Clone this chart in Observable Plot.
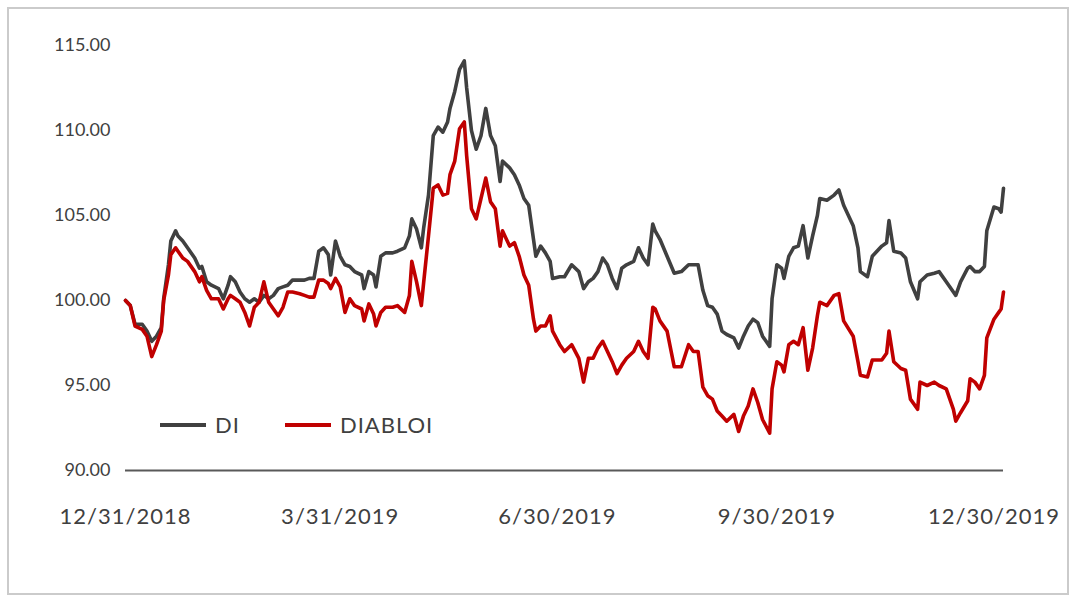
<!DOCTYPE html>
<html>
<head>
<meta charset="utf-8">
<script src="https://cdn.jsdelivr.net/npm/d3@7"></script>
<script src="https://cdn.jsdelivr.net/npm/@observablehq/plot@0.6"></script>
<style>
  html, body { margin: 0; padding: 0; background: #ffffff; }
  #wrap { position: relative; width: 1073px; height: 598px; overflow: hidden; font-family: Lato, "Open Sans", sans-serif; }
  #frame { position: absolute; left: 7px; top: 7px; width: 1062px; height: 588px; border: 2px solid #cbcbcb; box-sizing: border-box; }
  #chart { position: absolute; left: 0; top: 0; }
  #chart g[aria-label="x-axis tick label"] { font-size: 22px; letter-spacing: 1px; }
  #chart g[aria-label="y-axis tick label"] { font-size: 18px; }
  #legend { position: absolute; left: 160px; top: 411px; display: flex; align-items: center; font-size: 22px; letter-spacing: 1px; color: #404040; }
  .key { display: flex; align-items: center; margin-right: 45px; }
  .swatch { width: 46px; height: 4px; margin-right: 9px; }
</style>
</head>
<body>
<div id="wrap">
  <div id="frame"></div>
  <div id="chart"></div>
  <div id="legend"></div>
</div>
<script>
const seriesNames = ["DI", "DIABLOI"];
const seriesColors = ["#404040", "#c00000"];

const dates = [
"2018-12-31","2019-01-02","2019-01-04","2019-01-07","2019-01-09","2019-01-11","2019-01-13","2019-01-15","2019-01-16","2019-01-18",
"2019-01-19","2019-01-21","2019-01-22","2019-01-24","2019-01-26","2019-01-29","2019-01-31","2019-02-01","2019-02-03","2019-02-05",
"2019-02-08","2019-02-10","2019-02-12","2019-02-13","2019-02-15","2019-02-17","2019-02-19","2019-02-21","2019-02-23","2019-02-25",
"2019-02-27","2019-03-01","2019-03-03","2019-03-05","2019-03-07","2019-03-09","2019-03-11","2019-03-14","2019-03-16","2019-03-18",
"2019-03-20","2019-03-22","2019-03-24","2019-03-26","2019-03-27","2019-03-29","2019-03-31","2019-04-02","2019-04-04","2019-04-06",
"2019-04-09","2019-04-10","2019-04-12","2019-04-14","2019-04-15","2019-04-17","2019-04-19","2019-04-22","2019-04-24","2019-04-27",
"2019-04-29","2019-04-30","2019-05-02","2019-05-04","2019-05-05","2019-05-07","2019-05-09","2019-05-11","2019-05-13","2019-05-15",
"2019-05-16","2019-05-18","2019-05-20","2019-05-22","2019-05-23","2019-05-25","2019-05-27","2019-05-29","2019-05-31","2019-06-02",
"2019-06-04","2019-06-06","2019-06-07","2019-06-10","2019-06-12","2019-06-14","2019-06-16","2019-06-18","2019-06-20","2019-06-21",
"2019-06-23","2019-06-25","2019-06-27","2019-06-28","2019-07-01","2019-07-03","2019-07-06","2019-07-09","2019-07-11","2019-07-13",
"2019-07-15","2019-07-17","2019-07-19","2019-07-21","2019-07-23","2019-07-25","2019-07-27","2019-07-29","2019-08-01","2019-08-03",
"2019-08-05","2019-08-07","2019-08-09","2019-08-10","2019-08-12","2019-08-15","2019-08-18","2019-08-21","2019-08-24","2019-08-26",
"2019-08-28","2019-08-30","2019-09-01","2019-09-03","2019-09-05","2019-09-07","2019-09-09","2019-09-12","2019-09-14","2019-09-16",
"2019-09-18","2019-09-20","2019-09-22","2019-09-24","2019-09-27","2019-09-28","2019-09-30","2019-10-02","2019-10-03","2019-10-05",
"2019-10-07","2019-10-09","2019-10-11","2019-10-13","2019-10-15","2019-10-17","2019-10-18","2019-10-21","2019-10-24","2019-10-26",
"2019-10-28","2019-11-01","2019-11-03","2019-11-04","2019-11-07","2019-11-09","2019-11-13","2019-11-15","2019-11-16","2019-11-18",
"2019-11-21","2019-11-23","2019-11-25","2019-11-28","2019-11-29","2019-12-02","2019-12-05","2019-12-07","2019-12-10","2019-12-13",
"2019-12-14","2019-12-16","2019-12-19","2019-12-20","2019-12-22","2019-12-24","2019-12-26","2019-12-27","2019-12-30","2020-01-01",
"2020-01-02","2020-01-03"
];

const di = [
100.0,99.7,98.6,98.6,98.2,97.6,97.9,98.4,100.1,102.1,
103.5,104.1,103.8,103.5,103.1,102.5,101.9,102.0,101.1,100.9,
100.7,100.1,100.9,101.4,101.1,100.5,100.1,99.9,100.1,99.9,
100.3,100.1,100.3,100.7,100.8,100.9,101.2,101.2,101.2,101.3,
101.3,102.9,103.1,102.7,101.5,103.5,102.6,102.1,102.0,101.7,
101.5,100.7,101.7,101.5,100.8,102.6,102.8,102.8,102.9,103.1,
103.8,104.8,104.2,103.1,104.3,106.2,109.7,110.2,109.9,110.5,
111.3,112.3,113.6,114.1,112.5,110.0,108.9,109.7,111.3,109.7,
109.1,107.0,108.2,107.8,107.4,106.8,106.0,105.6,103.6,102.6,
103.2,102.8,102.3,101.3,101.4,101.4,102.1,101.7,100.7,101.1,
101.3,101.7,102.5,102.1,101.3,100.7,101.9,102.1,102.3,103.1,
102.5,102.1,104.5,104.1,103.6,102.6,101.6,101.7,102.1,102.1,
102.1,100.6,99.7,99.6,99.2,98.2,98.0,97.8,97.2,97.9,
98.5,98.9,98.7,97.9,97.3,100.1,102.1,101.9,101.3,102.6,
103.1,103.2,104.4,102.5,103.8,105.0,106.0,105.9,106.2,106.5,
105.6,104.4,103.1,101.7,101.4,102.6,103.2,103.4,104.7,102.9,
102.8,102.5,101.1,100.1,101.1,101.5,101.6,101.7,101.1,100.5,
100.3,101.1,101.9,102.0,101.7,101.7,102.0,104.1,105.5,105.4,
105.2,106.6
];

const diabloi = [
100.0,99.7,98.5,98.3,97.9,96.7,97.4,98.2,100.0,101.5,
102.7,103.1,102.9,102.5,102.3,101.7,101.1,101.4,100.6,100.1,
100.1,99.5,100.1,100.3,100.1,99.9,99.3,98.5,99.6,99.9,
101.1,99.9,99.5,99.1,99.6,100.5,100.5,100.4,100.3,100.2,
100.2,101.2,101.2,101.0,100.7,101.3,100.8,99.3,100.1,99.7,
99.5,98.8,99.8,99.2,98.5,99.3,99.6,99.6,99.7,99.3,
100.3,102.3,101.1,99.7,101.1,103.8,106.6,106.8,106.2,106.3,
107.4,108.2,110.1,110.5,108.5,105.4,104.8,106.0,107.2,105.8,
105.4,103.2,104.1,103.2,103.4,102.6,101.5,100.9,98.9,98.2,
98.5,98.5,99.1,98.2,97.4,97.0,97.4,96.6,95.2,96.6,
96.6,97.2,97.6,97.0,96.4,95.7,96.2,96.6,97.0,97.6,
97.0,96.6,99.6,99.5,98.8,98.2,96.1,96.1,97.4,97.0,
97.0,94.9,94.4,94.2,93.5,93.2,92.9,93.3,92.3,93.2,
93.8,94.8,94.0,93.0,92.2,94.8,96.4,96.2,95.8,97.4,
97.6,97.4,98.4,95.9,97.2,99.1,99.9,99.7,100.3,100.4,
98.8,97.9,96.4,95.6,95.5,96.5,96.5,96.9,98.2,96.4,
96.0,95.9,94.2,93.6,95.2,95.0,95.2,95.0,94.8,93.6,
92.9,93.4,94.1,95.4,95.2,94.8,95.6,97.8,98.9,99.3,
99.5,100.5
];

const yTicks = [90, 95, 100, 105, 110, 115];
const xTickLabels = ["2018-12-31", "2019-03-31", "2019-06-30", "2019-09-30", "2019-12-30"];
const xDomain = ["2018-12-31", "2020-01-03"];

const parse = d3.utcParse("%Y-%m-%d");
const rows = dates.map((d, i) => ({date: parse(d), di: di[i], diabloi: diabloi[i]}));

const chart = Plot.plot({
  width: 1073,
  height: 598,
  marginLeft: 125,
  marginRight: 70,
  marginTop: 45,
  marginBottom: 128,
  style: {fontFamily: "Lato, 'Open Sans', sans-serif", fontSize: "18px", color: "#404040", background: "transparent", overflow: "visible"},
  x: {type: "utc", domain: xDomain.map(parse), ticks: xTickLabels.map(parse), tickFormat: d3.utcFormat("%-m/%-d/%Y"), tickSize: 0, tickPadding: 38, label: null},
  y: {domain: [90, 115], ticks: yTicks, tickFormat: d3.format(".2f"), tickSize: 0, tickPadding: 15, label: null},
  marks: [
    Plot.ruleY([90], {stroke: "#595959", strokeWidth: 2}),
    Plot.lineY(rows, {x: "date", y: "di", stroke: seriesColors[0], strokeWidth: 3.6}),
    Plot.lineY(rows, {x: "date", y: "diabloi", stroke: seriesColors[1], strokeWidth: 3.6})
  ]
});
document.getElementById("chart").appendChild(chart);

const legend = document.getElementById("legend");
seriesNames.forEach((name, i) => {
  const k = document.createElement("div");
  k.className = "key";
  const s = document.createElement("div");
  s.className = "swatch";
  s.style.background = seriesColors[i];
  const t = document.createElement("span");
  t.textContent = name;
  k.appendChild(s); k.appendChild(t);
  legend.appendChild(k);
});
</script>
</body>
</html>
